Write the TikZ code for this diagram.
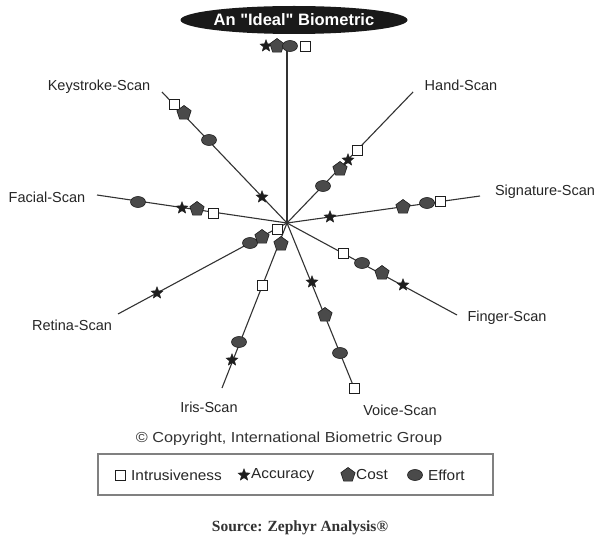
\documentclass[tikz,border=0pt]{standalone}
\usepackage{fontspec}
\setmainfont{Liberation Sans}
\newfontfamily\serifsrc{Liberation Serif}
\newfontfamily\widesans[FakeStretch=1.12]{Liberation Sans}
\newfontfamily\legsans[FakeStretch=1.06]{Liberation Sans}
\newcommand{\straightquote}{\XeTeXglyph\numexpr\XeTeXcharglyph"0022\relax}
\usetikzlibrary{shapes.geometric}
\definecolor{mk}{HTML}{4A4A4A}
\definecolor{mkline}{HTML}{1E1E1E}
\definecolor{spk}{HTML}{333333}
\tikzset{
  spoke/.style={draw=spk, line width=1.1pt},
  sq/.style={draw=mkline, fill=white, rectangle, minimum size=10pt, inner sep=0pt, line width=0.8pt},
  acc/.style={fill=mkline, draw=mkline, star, star points=5, star point ratio=2.3, minimum size=12.5pt, inner sep=0pt, line width=0.4pt},
  cost/.style={fill=mk, draw=mkline, regular polygon, regular polygon sides=5, minimum size=15pt, inner sep=0pt, line width=0.6pt},
  eff/.style={fill=mk, draw=mkline, ellipse, minimum width=15pt, minimum height=11pt, inner sep=0pt, line width=0.6pt},
  lab/.style={font=\fontsize{14.5}{16}\selectfont, inner sep=0pt, text=black!85},
  leglab/.style={font=\legsans\fontsize{14.5}{16}\selectfont, inner sep=0pt, text=black!85, anchor=west},
}
\begin{document}
\begin{tikzpicture}[x=1pt,y=-1pt]
\useasboundingbox (0,0) rectangle (596,537);
\fill[white] (0,0) rectangle (596,537);
% title
\node[ellipse, fill=black!90, minimum width=196pt, minimum height=28pt, inner sep=0pt, text=white, font=\fontsize{16.5}{18}\selectfont\bfseries] (title) at (294,20) {An \straightquote Ideal\straightquote{} Biometric};
% centre and spoke ends
\coordinate (C) at (287,223);
\coordinate (eI) at (287,50);
\coordinate (eK) at (162,92);
\coordinate (eH) at (413,92);
\coordinate (eS) at (480,196);
\coordinate (eFi) at (457,315);
\coordinate (eV) at (355,390);
\coordinate (eIr) at (222,388);
\coordinate (eR) at (118,314);
\coordinate (eFa) at (97,195);
\draw[spoke] (C) -- (eI);
\draw[spoke] (C) -- (eK);
\draw[spoke] (C) -- (eH);
\draw[spoke] (C) -- (eS);
\draw[spoke] (C) -- (eFi);
\draw[spoke] (C) -- (eV);
\draw[spoke] (C) -- (eIr);
\draw[spoke] (C) -- (eR);
\draw[spoke] (C) -- (eFa);
% labels
\node[lab] (lK) at (99,87) {Keystroke-Scan};
\node[lab] (lH) at (461,85) {Hand-Scan};
\node[lab] (lS) at (545,192) {Signature-Scan};
\node[lab] (lFi) at (507,318) {Finger-Scan};
\node[lab] (lV) at (400,410) {Voice-Scan};
\node[lab] (lIr) at (209,407) {Iris-Scan};
\node[lab] (lR) at (72,325) {Retina-Scan};
\node[lab] (lFa) at (47,197) {Facial-Scan};
% ideal markers
\node[acc] (iA) at (266,46) {};
\node[cost] (iC) at (277,46) {};
\node[eff] (iE) at (290,46) {};
\node[sq] (iS) at (305,46) {};
% keystroke
\node[sq] (kS) at (174,104) {};
\node[cost] (kC) at (184,113) {};
\node[eff] (kE) at (209,140) {};
\node[acc] (kA) at (262,197) {};
% hand
\node[sq] (hS) at (357,150) {};
\node[cost] (hC) at (340,169) {};
\node[acc] (hA) at (348,160) {};
\node[eff] (hE) at (323,186) {};
% signature
\node[acc] (sA) at (330,217) {};
\node[cost] (sC) at (403,207) {};
\node[eff] (sE) at (427,203) {};
\node[sq] (sS) at (440,201) {};
% finger
\node[sq] (fS) at (343,253) {};
\node[eff] (fE) at (362,263) {};
\node[cost] (fC) at (382,273) {};
\node[acc] (fA) at (403,285) {};
% voice
\node[acc] (vA) at (312,282) {};
\node[cost] (vC) at (325,315) {};
\node[eff] (vE) at (340,353) {};
\node[sq] (vS) at (354,388) {};
% iris
\node[cost] (irC) at (281,244) {};
\node[sq] (irS) at (262,285) {};
\node[eff] (irE) at (239,342) {};
\node[acc] (irA) at (232,360) {};
% retina
\node[acc] (rA) at (157,293) {};
\node[eff] (rE) at (250,243) {};
\node[cost] (rC) at (262,237) {};
\node[sq] (rS) at (277,229) {};
% facial
\node[eff] (faE) at (138,202) {};
\node[acc] (faA) at (182,208) {};
\node[cost] (faC) at (197,209) {};
\node[sq] (faS) at (213,213) {};
% copyright
\node[font=\widesans\fontsize{14.5}{16}\selectfont, text=black!80, inner sep=0pt] (copy) at (289,439) {© Copyright, International Biometric Group};
% legend
\node[draw=black!50, line width=1.4pt, minimum width=395pt, minimum height=41pt, inner sep=0pt] (legend) at (295.5,474.5) {};
\node[sq] (lgS) at (120,475) {};
\node[leglab] (lgSt) at (131,475) {Intrusiveness};
\node[acc] (lgA) at (244,475) {};
\node[leglab] (lgAt) at (251,475) {Accuracy};
\node[cost] (lgC) at (348,475) {};
\node[leglab] (lgCt) at (356,475) {Cost};
\node[eff] (lgE) at (415,475) {};
\node[leglab] (lgEt) at (428,475) {Effort};
% source
\node[font=\serifsrc\fontsize{15.5}{17}\selectfont\bfseries, text=black!80, inner sep=0pt] (src) at (300,528) {Source: Zephyr Analysis®};
\end{tikzpicture}
\end{document}
